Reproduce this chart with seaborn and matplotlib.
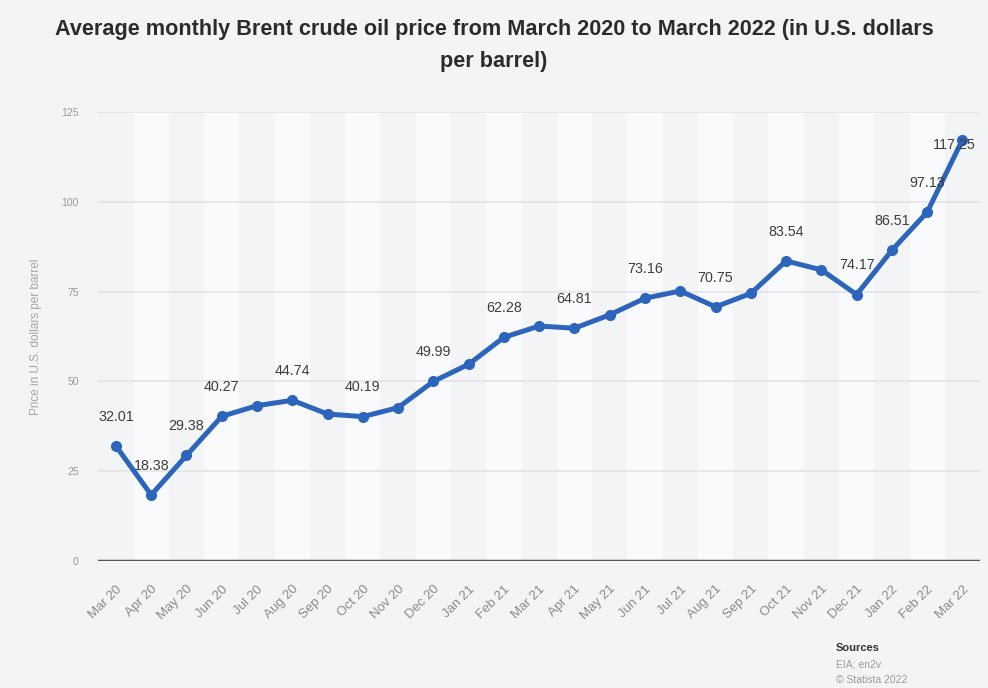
import matplotlib
matplotlib.use("Agg")
import matplotlib.pyplot as plt
import seaborn as sns
import pandas as pd

months = ["Mar 20", "Apr 20", "May 20", "Jun 20", "Jul 20", "Aug 20", "Sep 20",
          "Oct 20", "Nov 20", "Dec 20", "Jan 21", "Feb 21", "Mar 21", "Apr 21",
          "May 21", "Jun 21", "Jul 21", "Aug 21", "Sep 21", "Oct 21", "Nov 21",
          "Dec 21", "Jan 22", "Feb 22", "Mar 22"]
prices = [32.01, 18.38, 29.38, 40.27, 43.24, 44.74, 40.91, 40.19, 42.69, 49.99,
          54.77, 62.28, 65.41, 64.81, 68.53, 73.16, 75.17, 70.75, 74.49, 83.54,
          81.05, 74.17, 86.51, 97.13, 117.25]
labelled = ["Mar 20", "Apr 20", "May 20", "Jun 20", "Aug 20", "Oct 20", "Dec 20",
            "Feb 21", "Apr 21", "Jun 21", "Aug 21", "Oct 21", "Dec 21", "Jan 22",
            "Feb 22", "Mar 22"]
y_ticks = [0, 25, 50, 75, 100, 125]

df = pd.DataFrame({"month": months, "price": prices, "pos": range(len(months))})

sns.set_theme(style="white")
plt.rcParams["font.family"] = ["Liberation Sans", "DejaVu Sans"]

bg = "#f3f4f6"
fig = plt.figure(figsize=(9.88, 6.88), dpi=100, facecolor=bg)
ax = fig.add_axes([0.0995, 0.1846, 0.8925, 0.6526])
ax.set_facecolor(bg)

# alternating column stripes
for i in range(len(months)):
    if i % 2 == 1:
        ax.axvspan(i - 0.5, i + 0.5, color="#f9fafb", zorder=0, lw=0)

for t in y_ticks[1:]:
    ax.axhline(t, color="#e3e5e8", lw=1.3, zorder=1)
ax.axhline(0, color="#555555", lw=2.5, zorder=2)

blue = "#2c65bb"
sns.lineplot(data=df, x="pos", y="price", ax=ax, color=blue, lw=3.6,
             marker="o", markersize=8, markeredgewidth=0, zorder=3)

last = len(months) - 1
for m, p, i in zip(months, prices, range(len(months))):
    if m in labelled:
        # the top point sits near the frame, so its label goes beside it
        off = (-6, -4) if i == last else (0, 21)
        ax.annotate(f"{p:.2f}", (i, p), xytext=off, textcoords="offset points",
                    ha="center", va="center", fontsize=10.3, color="#3d3d3d", zorder=4,
                    annotation_clip=False)

ax.set_xlim(-0.5, len(months) - 0.5)
ax.set_ylim(0, 125)
ax.set_yticks(y_ticks)
ax.set_yticklabels([str(t) for t in y_ticks], fontsize=7.5, color="#9a9a9a")
ax.set_xticks(range(len(months)))
ax.set_xticklabels(months, rotation=45, ha="right", rotation_mode="anchor",
                   fontsize=9.5, color="#8a8a8a")
ax.tick_params(axis="both", length=0)
ax.tick_params(axis="x", pad=16)
ax.tick_params(axis="y", pad=14)
ax.set_xlabel("")
ax.set_ylabel("Price in U.S. dollars per barrel", fontsize=8.5, color="#a5a5a5")
ax.yaxis.set_label_coords(-0.064, 0.5)
for s in ax.spines.values():
    s.set_visible(False)

fig.text(0.5, 0.957, "Average monthly Brent crude oil price from March 2020 to March 2022 (in U.S. dollars",
         ha="center", va="center", fontsize=15.6, fontweight="bold", color="#2b2b2b")
fig.text(0.5, 0.911, "per barrel)", ha="center", va="center", fontsize=15.6,
         fontweight="bold", color="#2b2b2b")

fig.text(0.846, 0.058, "Sources", fontsize=8, fontweight="bold", color="#333333", va="center")
fig.text(0.846, 0.034, "EIA; en2v", fontsize=7.5, color="#9a9a9a", va="center")
fig.text(0.846, 0.012, "© Statista 2022", fontsize=7.5, color="#9a9a9a", va="center")

fig.savefig("out.png", dpi=100, facecolor=bg)
